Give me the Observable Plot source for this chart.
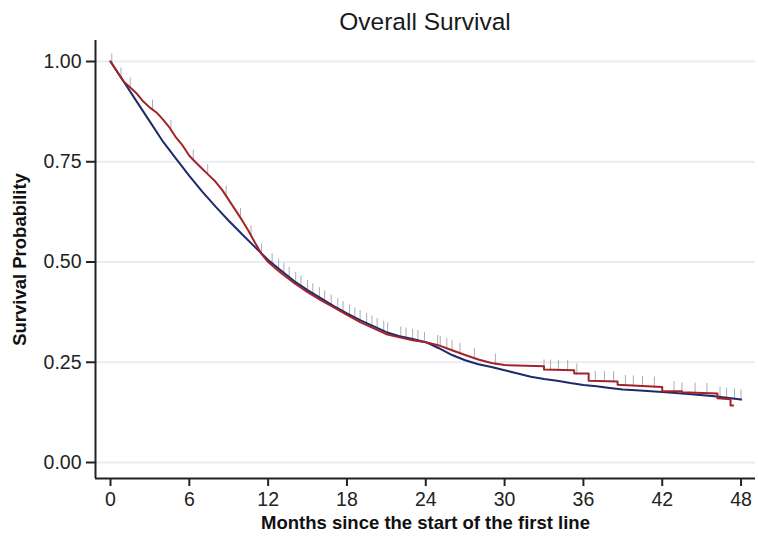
<!DOCTYPE html>
<html>
<head>
<meta charset="utf-8">
<script src="https://cdn.jsdelivr.net/npm/d3@7"></script>
<script src="https://cdn.jsdelivr.net/npm/@observablehq/plot@0.6"></script>
<style>
  body { margin: 0; background: #fff; font-family: "Liberation Sans", Arial, sans-serif; }
  #wrap { position: relative; width: 758px; height: 540px; }
  #title { position: absolute; left: 95px; top: 2px; width: 660px; height: 40px; line-height: 40px; text-align: center; font-size: 24.5px; color: #1a1a1a; }
  #chart { position: absolute; left: 0; top: 40px; }
</style>
</head>
<body>
<div id="wrap">
  <div id="title">Overall Survival</div>
  <div id="chart"></div>
</div>
<script>
const titleText = "Overall Survival";
const xLabel = "Months since the start of the first line";
const yLabel = "Survival Probability";
const xTicks = [0, 6, 12, 18, 24, 30, 36, 42, 48];
const yTicks = [0, 0.25, 0.5, 0.75, 1.0];

const blueTime = [0, 1, 2, 3, 4, 5, 6, 7, 8, 9, 10, 11, 12, 13, 14, 15, 16, 17, 18, 19, 20, 21, 22, 23, 24, 25, 26, 27, 28, 29, 30, 31, 32, 33, 34, 35, 36, 37, 38, 39, 40, 42, 44, 46, 48];
const blueSurv = [1.00, 0.95, 0.90, 0.85, 0.80, 0.757, 0.715, 0.675, 0.638, 0.603, 0.57, 0.537, 0.505, 0.478, 0.452, 0.43, 0.41, 0.39, 0.372, 0.355, 0.34, 0.325, 0.315, 0.308, 0.30, 0.285, 0.268, 0.255, 0.245, 0.238, 0.23, 0.222, 0.214, 0.208, 0.204, 0.198, 0.193, 0.19, 0.186, 0.182, 0.18, 0.176, 0.171, 0.165, 0.157];

const redTime = [0, 0.5, 1, 1.5, 2, 2.5, 3, 3.5, 4, 4.5, 5, 5.5, 6, 6.5, 7, 7.5, 8, 8.5, 9, 9.5, 10, 10.5, 11, 11.5, 12, 13, 14, 15, 16, 17, 18, 19, 20, 21, 22, 23, 24, 25, 26, 27, 28, 29, 30, 33, 33, 35.3, 35.3, 36.4, 36.4, 38.6, 38.6, 42, 42, 43.5, 43.5, 46.2, 46.2, 47.2, 47.2, 47.4];
const redSurv = [1.00, 0.975, 0.95, 0.935, 0.92, 0.90, 0.885, 0.873, 0.855, 0.835, 0.81, 0.79, 0.765, 0.748, 0.732, 0.716, 0.70, 0.68, 0.655, 0.63, 0.605, 0.578, 0.548, 0.52, 0.50, 0.472, 0.447, 0.425, 0.405, 0.387, 0.368, 0.35, 0.335, 0.32, 0.312, 0.305, 0.30, 0.292, 0.28, 0.268, 0.257, 0.248, 0.243, 0.24, 0.232, 0.23, 0.222, 0.222, 0.204, 0.202, 0.194, 0.188, 0.178, 0.178, 0.175, 0.172, 0.16, 0.158, 0.142, 0.142];

const censorTimes = [0.1, 0.8, 1.5, 3.2, 4.6, 6.3, 7.4, 8.8, 9.9, 10.7, 11.5, 12.3, 12.8, 13.2, 13.6, 14.1, 14.5, 15.0, 15.4, 15.9, 16.3, 16.8, 17.3, 17.7, 18.2, 18.6, 19.0, 19.5, 19.9, 20.3, 20.8, 21.1, 22.1, 22.5, 23.0, 23.4, 23.9, 24.9, 25.1, 25.6, 26.0, 26.6, 27.7, 29.3, 33.0, 33.5, 34.1, 34.8, 35.5, 36.9, 37.6, 38.3, 39.2, 39.8, 40.5, 41.4, 42.9, 43.5, 44.5, 45.4, 46.4, 46.9, 47.5, 48.0];

const blueColor = "#1d2a6b";
const redColor = "#a4232b";

const xDomain = [-1.142, 49.1];
const yDomain = [-0.0399, 1.0524];

function survAt(times, vals, t) {
  if (t <= times[0]) return vals[0];
  for (let i = times.length - 1; i >= 0; i--) {
    if (times[i] <= t) {
      if (i === times.length - 1) return vals[i];
      const t0 = times[i], t1 = times[i + 1];
      if (t1 === t0) return vals[i + 1];
      return vals[i] + (vals[i + 1] - vals[i]) * (t - t0) / (t1 - t0);
    }
  }
  return vals[vals.length - 1];
}

const blueRows = blueTime.map((t, i) => ({t, s: blueSurv[i]}));
const redRows = redTime.map((t, i) => ({t, s: redSurv[i]}));
const censorRows = censorTimes.map(t => {
  const b = survAt(blueTime, blueSurv, t);
  const r = t <= redTime[redTime.length - 1] ? survAt(redTime, redSurv, t) : b;
  const v = Math.max(b, r);
  return {t, y1: v - 0.004, y2: v + 0.024};
});

const chart = Plot.plot({
  width: 758,
  height: 500,
  marginLeft: 95,
  marginRight: 3,
  marginTop: 0,
  marginBottom: 62,
  style: {fontFamily: "'Liberation Sans', Arial, sans-serif", background: "#fff", color: "#222"},
  x: {domain: xDomain},
  y: {domain: yDomain},
  marks: [
    Plot.ruleY(yTicks, {stroke: "#e6edf4", strokeWidth: 2}),
    Plot.ruleX(censorRows, {x: "t", y1: "y1", y2: "y2", stroke: "#a9aeb4", strokeWidth: 1}),
    Plot.line(blueRows, {x: "t", y: "s", stroke: blueColor, strokeWidth: 2}),
    Plot.line(redRows, {x: "t", y: "s", stroke: redColor, strokeWidth: 2}),
    Plot.ruleX([xDomain[0]], {stroke: "#222", strokeWidth: 2}),
    Plot.ruleY([yDomain[0]], {stroke: "#222", strokeWidth: 2}),
    Plot.axisX({ticks: xTicks, tickSize: 8, tickPadding: 6, fontSize: 19.5, strokeWidth: 2, label: null, tickFormat: d => String(d)}),
    Plot.axisY({ticks: yTicks, tickSize: 9, tickPadding: 5, fontSize: 19.5, strokeWidth: 2, label: null, tickFormat: d3.format(".2f")}),
    Plot.text([xLabel], {frameAnchor: "bottom", dy: 50, fontSize: 18.5, fontWeight: "bold", fill: "#111"}),
    Plot.text([yLabel], {frameAnchor: "left", dx: -75, rotate: -90, textAnchor: "middle", fontSize: 18.5, fontWeight: "bold", fill: "#111"})
  ]
});
document.getElementById("chart").appendChild(chart);
</script>
</body>
</html>
